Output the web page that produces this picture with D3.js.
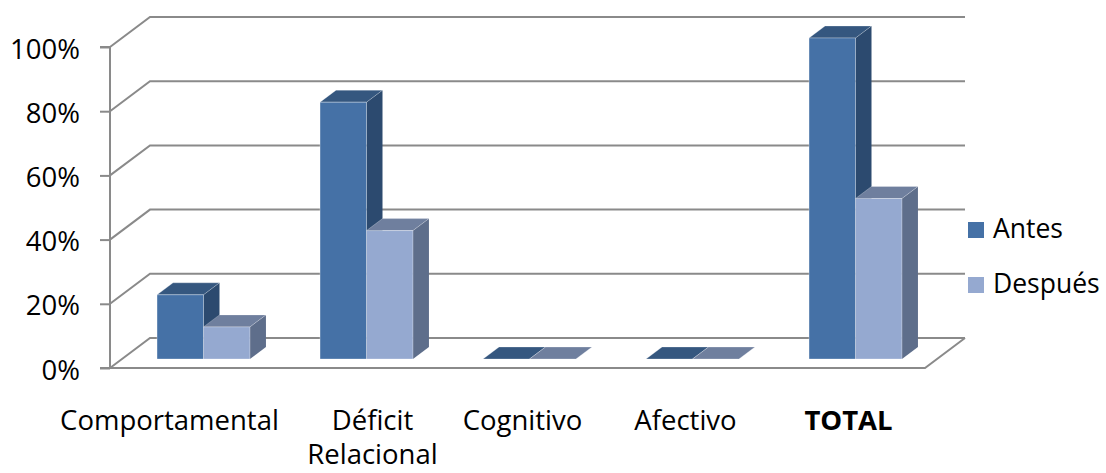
<!DOCTYPE html>
<html>
<head>
<meta charset="utf-8">
<script src="https://cdn.jsdelivr.net/npm/d3@7"></script>
<style>
  html, body { margin: 0; padding: 0; background: #fff; }
  svg { display: block; font-family: "Open Sans", "Noto Sans", sans-serif; }
</style>
</head>
<body>
<svg id="chart" width="1106" height="473"></svg>
<script>
// Categories and series values (fractions of 1)
const categories = ["Comportamental", "Déficit Relacional", "Cognitivo", "Afectivo", "TOTAL"];
const categoryLines = [["Comportamental"], ["Déficit", "Relacional"], ["Cognitivo"], ["Afectivo"], ["TOTAL"]];
const seriesNames = ["Antes", "Después"];
const antes   = [0.20, 0.80, 0, 0, 1.00];
const despues = [0.10, 0.40, 0, 0, 0.50];
const tickValues = [0, 0.2, 0.4, 0.6, 0.8, 1.0];
const tickLabels = ["0%", "20%", "40%", "60%", "80%", "100%"];

const seriesValues = [antes, despues];

// Face colours per series: front, top, side
const palette = {
  "Antes":   { front: "#4571a6", top: "#35577f", side: "#2c4a6f", legend: "#4571a6" },
  "Después": { front: "#95a9d0", top: "#6f7f9e", side: "#5e6e8b", legend: "#95a9d0" }
};

const svg = d3.select("#chart");

// Oblique 3D frame: front plane plus a depth vector
const frontLeft = 110, frontRight = 925;
const depthDX = 40, depthDY = -30;
const barNear = 0.3, barFar = 0.7;   // bar depth as fractions of the floor depth

const y = d3.scaleLinear().domain([0, 1]).range([368, 47]);
const x0 = d3.scaleBand().domain(categories).range([frontLeft, frontRight]).paddingInner(0).paddingOuter(0);
const groupFrac = 0.57;
const x1 = d3.scaleBand().domain(seriesNames)
  .range([x0.bandwidth() * (1 - groupFrac) / 2, x0.bandwidth() * (1 + groupFrac) / 2]);

// project a point (px on front plane, value v, depth d in [0,1])
const P = (px, v, d) => [px + depthDX * d, y(v) + depthDY * d];
const poly = pts => "M" + pts.map(p => p.join(",")).join("L") + "Z";

const gridColor = "#8a8a8a";
const grid = svg.append("g").attr("fill", "none").attr("stroke", gridColor).attr("stroke-width", 2);

// side wall + back wall gridlines
tickValues.forEach(v => {
  const a = P(frontLeft, v, 0), b = P(frontLeft, v, 1), c = P(frontRight, v, 1);
  grid.append("path").attr("d", `M${a}L${b}L${c}`);
});
// floor front and right edges
{
  const a = P(frontLeft, 0, 0), b = P(frontRight, 0, 0), c = P(frontRight, 0, 1);
  grid.append("path").attr("d", `M${a}L${b}L${c}`);
}

// vertical axis on the front-left edge
const axis = d3.axisLeft(y)
  .tickValues(tickValues)
  .tickSize(10)
  .tickPadding(20)
  .tickFormat((d, i) => tickLabels[i]);
const axisG = svg.append("g").attr("transform", `translate(${frontLeft},0)`).call(axis);
axisG.select(".domain").attr("stroke", gridColor).attr("stroke-width", 2)
  .attr("d", `M-10,${y(0)}H0V${y(1)}H-10`);
axisG.selectAll(".tick line").attr("stroke", gridColor).attr("stroke-width", 2);
axisG.selectAll(".tick text")
  .attr("fill", "#000")
  .attr("font-size", 27.5)
  .attr("font-family", '"Open Sans", sans-serif')
  .attr("dy", "0.4em");

// bars
const bars = svg.append("g");
categories.forEach((cat, ci) => {
  seriesNames.forEach((s, si) => {
    const v = seriesValues[si][ci];
    const xl = x0(cat) + x1(s);
    const xr = xl + x1.bandwidth();
    const col = palette[s];
    const g = bars.append("g");
    // right side face
    g.append("path")
      .attr("d", poly([P(xr, 0, barNear), P(xr, 0, barFar), P(xr, v, barFar), P(xr, v, barNear)]))
      .attr("fill", col.side);
    // top face
    g.append("path")
      .attr("d", poly([P(xl, v, barNear), P(xr, v, barNear), P(xr, v, barFar), P(xl, v, barFar)]))
      .attr("fill", col.top)
      .attr("stroke", "rgba(255,255,255,0.25)").attr("stroke-width", 1);
    // front face
    if (v > 0) {
      g.append("path")
        .attr("d", poly([P(xl, 0, barNear), P(xr, 0, barNear), P(xr, v, barNear), P(xl, v, barNear)]))
        .attr("fill", col.front)
        .attr("stroke", "rgba(255,255,255,0.3)").attr("stroke-width", 1);
    }
  });
});

// category labels under the floor
const labelNudge = { "Comportamental": -27, "Déficit Relacional": 13 };
const labels = svg.append("g")
  .attr("font-size", 27.5)
  .attr("text-anchor", "middle")
  .attr("fill", "#000");
categories.forEach((cat, ci) => {
  const cx = x0(cat) + x0.bandwidth() / 2 + 5 + (labelNudge[cat] || 0);
  const t = labels.append("text")
    .attr("x", cx)
    .attr("y", 430)
    .attr("font-weight", cat === "TOTAL" ? "bold" : "normal");
  categoryLines[ci].forEach((line, li) => {
    t.append("tspan").attr("x", cx).attr("dy", li === 0 ? 0 : 34).text(line);
  });
});

// legend
const legend = svg.append("g").attr("font-size", 26.5).attr("fill", "#000");
seriesNames.forEach((s, i) => {
  const ly = 238 + i * 55;
  legend.append("rect")
    .attr("x", 968).attr("y", ly - 16)
    .attr("width", 16).attr("height", 16)
    .attr("fill", palette[s].legend);
  legend.append("text").attr("x", 993).attr("y", ly).text(s);
});
</script>
</body>
</html>
